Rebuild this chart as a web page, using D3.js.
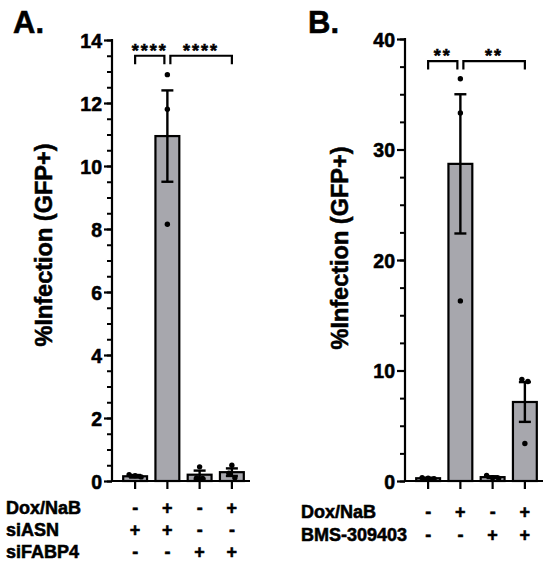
<!DOCTYPE html>
<html>
<head>
<meta charset="utf-8">
<script src="https://cdn.jsdelivr.net/npm/d3@7"></script>
<style>
  body { margin: 0; background: #fff; }
  svg { display: block; }
  text { font-family: "Liberation Sans", Arial, sans-serif; font-weight: bold; fill: #000;
         stroke: #000; stroke-width: 0.55px; }
</style>
</head>
<body>
<svg id="viz" width="550" height="564"></svg>
<script>
// ---- panel A data ----
var aMeans = [0.15, 10.95, 0.2, 0.28];
var aErrors = [0.04, 1.45, 0.13, 0.12];
var aPoints = [[0.2, 0.17, 0.13], [12.9, 11.8, 8.15], [0.45, 0.1, 0.08], [0.5, 0.25, 0.1]];
var aRowLabels = ["Dox/NaB", "siASN", "siFABP4"];
var aRowSigns = [["-", "+", "-", "+"], ["+", "+", "-", "-"], ["-", "-", "+", "+"]];
var aTicks = [0, 2, 4, 6, 8, 10, 12, 14];
var aSig = [{ from: 0, to: 1, level: 13.5, label: "****" }, { from: 1, to: 3, level: 13.5, label: "****" }];

// ---- panel B data ----
var bMeans = [0.25, 28.7, 0.35, 7.15];
var bErrors = [0.05, 6.3, 0.08, 1.8];
var bPoints = [[0.2, 0.25, 0.3], [36.4, 33.3, 16.3], [0.5, 0.3, 0.25], [9.2, 9.0, 3.4]];
var bRowLabels = ["Dox/NaB", "BMS-309403"];
var bRowSigns = [["-", "+", "-", "+"], ["-", "-", "+", "+"]];
var bTicks = [0, 10, 20, 30, 40];
var bSig = [{ from: 0, to: 1, level: 38, label: "**" }, { from: 1, to: 3, level: 38, label: "**" }];

var barColor = "#a7a7ad";
var svg = d3.select("#viz");

function drawPanel(opt) {
    var g = svg.append("g");
    var y = d3.scaleLinear().domain(opt.domain).range([481, opt.top]);
    var x = d3.scaleBand().domain(d3.range(opt.means.length))
        .range([opt.bandLeft, opt.bandRight]).paddingInner(0.26).paddingOuter(0.13);
    var cx = function (i) { return x(i) + x.bandwidth() / 2; };

    // panel letter
    g.append("text").attr("x", opt.letterX).attr("y", 33)
        .style("font-size", "31px").text(opt.letter);

    // y axis: minor then major ticks
    var minor = d3.range(opt.domain[0], opt.domain[1] + 1e-9, opt.minorStep);
    g.append("g").attr("transform", "translate(" + opt.axisX + ",0)")
        .call(d3.axisLeft(y).tickValues(minor).tickSize(5).tickFormat(""))
        .call(function (s) { s.select(".domain").remove(); s.selectAll("line").attr("stroke-width", 2); });
    var yAxis = g.append("g").attr("transform", "translate(" + opt.axisX + ",0)")
        .call(d3.axisLeft(y).tickValues(opt.ticks).tickSize(8).tickSizeOuter(0).tickPadding(2));
    yAxis.select(".domain").attr("stroke-width", 2.2).attr("d", "M0," + (y(opt.domain[1]) - 1) + "V" + y(0));
    yAxis.selectAll("line").attr("stroke-width", 2.2);
    yAxis.selectAll("text").style("font-size", "19.5px").attr("dy", "0.36em");

    // y label
    g.append("text")
        .attr("transform", "translate(" + opt.labelX + "," + opt.labelY + ") rotate(-90)")
        .attr("text-anchor", "middle").attr("dominant-baseline", "central")
        .style("font-size", "23.5px").text("%Infection (GFP+)");

    // bars
    g.selectAll("rect.bar").data(opt.means).join("rect").attr("class", "bar")
        .attr("x", function (d, i) { return x(i); })
        .attr("y", function (d) { return y(d); })
        .attr("width", x.bandwidth())
        .attr("height", function (d) { return y(0) - y(d); })
        .attr("fill", barColor).attr("stroke", "#000").attr("stroke-width", 2.2);

    // x axis line and ticks
    g.append("line").attr("x1", opt.axisX - 1).attr("x2", opt.axisEnd)
        .attr("y1", y(0)).attr("y2", y(0)).attr("stroke", "#000").attr("stroke-width", 2.2);
    g.selectAll("line.xtick").data(opt.means).join("line").attr("class", "xtick")
        .attr("x1", function (d, i) { return cx(i); }).attr("x2", function (d, i) { return cx(i); })
        .attr("y1", y(0)).attr("y2", y(0) + 8).attr("stroke", "#000").attr("stroke-width", 2.2);

    // error bars
    var cap = 6;
    opt.means.forEach(function (m, i) {
        var e = opt.errors[i];
        var eg = g.append("g").attr("stroke", "#000").attr("stroke-width", 2.4);
        eg.append("line").attr("x1", cx(i)).attr("x2", cx(i)).attr("y1", y(m + e)).attr("y2", y(Math.max(0, m - e)));
        eg.append("line").attr("x1", cx(i) - cap).attr("x2", cx(i) + cap).attr("y1", y(m + e)).attr("y2", y(m + e));
        if (m - e > 0) {
            eg.append("line").attr("x1", cx(i) - cap).attr("x2", cx(i) + cap).attr("y1", y(m - e)).attr("y2", y(m - e));
        }
    });

    // points, spread sideways when they overlap
    opt.points.forEach(function (pts, i) {
        var sorted = pts.map(function (v) { return { v: v, py: y(v) }; })
            .sort(function (a, b) { return a.py - b.py; });
        var clusters = [];
        sorted.forEach(function (p) {
            var last = clusters[clusters.length - 1];
            if (last && p.py - last[last.length - 1].py < 5) last.push(p); else clusters.push([p]);
        });
        clusters.forEach(function (c) {
            c.forEach(function (p, k) { p.px = cx(i) + (k - (c.length - 1) / 2) * 6; });
        });
        g.selectAll(null).data(sorted).join("circle")
            .attr("cx", function (p) { return p.px; }).attr("cy", function (p) { return p.py; })
            .attr("r", 2.7).attr("fill", "#000");
    });

    // significance brackets
    opt.sig.forEach(function (s) {
        var x1 = cx(s.from) + (s.from === 1 ? 3 : 0);
        var x2 = cx(s.to) - (s.to === 1 ? 3 : 0);
        var top = y(s.level), leg = top + 8.5;
        g.append("path").attr("d", "M" + x1 + "," + leg + "V" + top + "H" + x2 + "V" + leg)
            .attr("fill", "none").attr("stroke", "#000").attr("stroke-width", 2.2);
        g.append("text").attr("x", (x1 + x2) / 2).attr("y", top + 1)
            .attr("text-anchor", "middle").style("font-size", "18px").style("letter-spacing", "2px")
            .text(s.label);
    });

    // condition rows
    opt.rowLabels.forEach(function (lab, r) {
        var ry = opt.rowY[r];
        g.append("text").attr("x", opt.rowLabelX).attr("y", ry).attr("dominant-baseline", "central")
            .style("font-size", "18px").text(lab);
        g.selectAll(null).data(opt.rowSigns[r]).join("text")
            .attr("x", function (d, i) { return cx(i); }).attr("y", ry)
            .attr("text-anchor", "middle").attr("dominant-baseline", "central")
            .style("font-size", "18px").text(function (d) { return d; });
    });
}

drawPanel({
    letter: "A.", letterX: 13, domain: [0, 14], top: 40, minorStep: 0.5, ticks: aTicks,
    means: aMeans, errors: aErrors, points: aPoints, sig: aSig,
    axisX: 112, axisEnd: 250, bandLeft: 119, bandRight: 248,
    labelX: 44, labelY: 245,
    rowLabels: aRowLabels, rowSigns: aRowSigns, rowLabelX: 6, rowY: [508, 530, 552]
});

drawPanel({
    letter: "B.", letterX: 308, domain: [0, 40], top: 39, minorStep: 2.5, ticks: bTicks,
    means: bMeans, errors: bErrors, points: bPoints, sig: bSig,
    axisX: 405, axisEnd: 543, bandLeft: 412, bandRight: 541,
    labelX: 340, labelY: 248,
    rowLabels: bRowLabels, rowSigns: bRowSigns, rowLabelX: 301, rowY: [512, 535]
});
</script>
</body>
</html>
